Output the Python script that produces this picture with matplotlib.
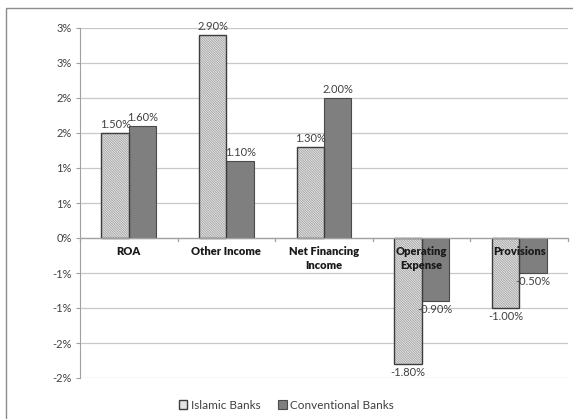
import numpy as np
import matplotlib
matplotlib.use("Agg")
import matplotlib.pyplot as plt
from matplotlib.patches import Rectangle

# data (percent)
categories = ["ROA", "Other Income", "Net Financing\nIncome", "Operating\nExpense", "Provisions"]
islamic = [1.5, 2.9, 1.3, -1.8, -1.0]
conventional = [1.6, 1.1, 2.0, -0.9, -0.5]
series_names = ["Islamic Banks", "Conventional Banks"]
y_ticks = [-2.0, -1.5, -1.0, -0.5, 0.0, 0.5, 1.0, 1.5, 2.0, 2.5, 3.0]
y_tick_labels = ["-2%", "-2%", "-1%", "-1%", "0%", "1%", "1%", "2%", "2%", "3%", "3%"]

plt.rcParams["font.family"] = ["Lato", "DejaVu Sans"]
plt.rcParams["hatch.linewidth"] = 0.5

fig = plt.figure(figsize=(5.73, 4.19), dpi=100)
ax = fig.add_axes([80 / 573, 1 - 378 / 419, 488 / 573, 350 / 419])

x = np.arange(len(categories))
w = 0.28
# hatched fill first (hatch takes edge colour), then the dark outline on top
ax.bar(x - w / 2, islamic, w, color="#e4e4e4", edgecolor="#9a9a9a",
       linewidth=0, hatch="\\" * 14, zorder=3)
bars_i = ax.bar(x - w / 2, islamic, w, fill=False, edgecolor="#3c3c3c",
                linewidth=1.0, zorder=3.5)
bars_c = ax.bar(x + w / 2, conventional, w, color="#7f7f7f", edgecolor="#4a4a4a",
                linewidth=0.8, zorder=3)

# value labels above / below each bar
for bars, vals in ((bars_i, islamic), (bars_c, conventional)):
    for b, v in zip(bars, vals):
        cx = b.get_x() + b.get_width() / 2
        if v >= 0:
            ax.annotate("%.2f%%" % v, (cx, v), xytext=(0, 2.5), textcoords="offset points",
                        ha="center", va="bottom", fontsize=8, color="#404040", zorder=5)
        else:
            ax.annotate("%.2f%%" % v, (cx, v), xytext=(0, -2), textcoords="offset points",
                        ha="center", va="top", fontsize=8, color="#404040", zorder=5)

# category names sit just under the zero line
for xi, name in zip(x, categories):
    ax.annotate(name, (xi, 0), xytext=(0, -6), textcoords="offset points",
                ha="center", va="top", fontsize=8, fontweight="heavy",
                color="#1a1a1a", zorder=6, linespacing=1.25)

ax.set_xlim(-0.5, len(categories) - 0.5)
ax.set_ylim(-2.0, 3.0)
ax.set_yticks(y_ticks)
ax.set_yticklabels(y_tick_labels, fontsize=8, color="#404040")
ax.tick_params(axis="y", length=3, color="#a0a0a0", pad=3)
ax.set_xticks([])
ax.yaxis.grid(True, color="#c8c8c8", linewidth=0.9, zorder=0)
ax.set_axisbelow(True)

for s in ("top", "right", "bottom"):
    ax.spines[s].set_visible(False)
ax.spines["left"].set_color("#a0a0a0")

# horizontal axis at zero with small category ticks
ax.axhline(0, color="#a0a0a0", linewidth=0.9, zorder=4)
for b in np.arange(-0.5, len(categories), 1.0):
    ax.plot([b, b], [0, -0.05], color="#a0a0a0", linewidth=0.9, zorder=4, clip_on=False)

# legend handles: plain boxes like the reference
h_i = Rectangle((0, 0), 1, 1, facecolor="#e4e4e4", edgecolor="#3c3c3c", linewidth=1.0)
h_c = Rectangle((0, 0), 1, 1, facecolor="#7f7f7f", edgecolor="#4a4a4a", linewidth=0.8)
leg = fig.legend(handles=[h_i, h_c], labels=series_names, loc="center",
                 bbox_to_anchor=(0.5, 1 - 405 / 419), ncol=2, frameon=False,
                 fontsize=8.5, handlelength=0.7, handleheight=0.7, handletextpad=0.3,
                 columnspacing=1.5)
for t in leg.get_texts():
    t.set_color("#404040")

# chart frame, cut off on the right and bottom like the reference
fig.patches.append(Rectangle((6 / 573, -0.1), 1.2, 1.1 - 8 / 419, transform=fig.transFigure,
                             fill=False, edgecolor="#8c8c8c", linewidth=1.0))

fig.savefig("out.png", dpi=100)
